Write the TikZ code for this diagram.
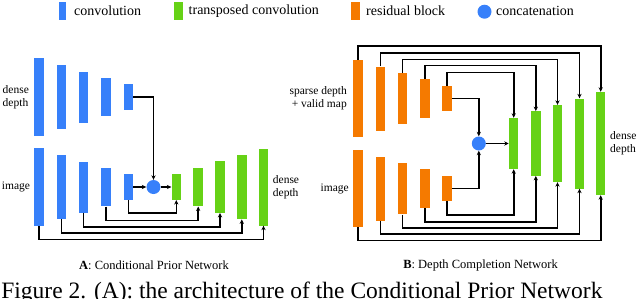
\documentclass[tikz,border=0pt]{standalone}
\usepackage{fontspec}
\setmainfont{Liberation Serif}
\usetikzlibrary{arrows.meta}
\definecolor{convblue}{RGB}{55,128,250}
\definecolor{tgreen}{RGB}{102,210,22}
\definecolor{resorange}{RGB}{245,122,0}
\tikzset{
  bar/.style={rectangle, inner sep=0pt, minimum width=9.5pt, draw=none},
  conv/.style={bar, fill=convblue},
  tconv/.style={bar, fill=tgreen},
  resb/.style={bar, fill=resorange},
  concat/.style={circle, inner sep=0pt, minimum size=14pt, fill=convblue},
  conn/.style={line width=1.6pt, black},
  arr/.style={conn, -{Stealth[length=4.5pt,width=4.2pt]}},
  lbl/.style={inner sep=0pt, font=\fontsize{11.5}{13}\selectfont},
  leg/.style={inner sep=0pt, anchor=west, font=\fontsize{14}{16}\selectfont},
  captext/.style={inner sep=0pt, font=\fontsize{12.5}{14}\selectfont},
}
\begin{document}
\begin{tikzpicture}[x=1pt,y=-1pt]
\useasboundingbox (0,0) rectangle (640,298);

% ---------- legend ----------
\node[conv, minimum width=7.5pt, minimum height=18pt] (lg1) at (62.7,10.5) {};
\node[leg] (lt1) at (74,11) {convolution};
\node[tconv, minimum width=8.5pt, minimum height=18pt] (lg2) at (178.7,10.5) {};
\node[leg] (lt2) at (188.5,11) {transposed convolution};
\node[resb, minimum width=9pt, minimum height=18pt] (lg3) at (355,10.5) {};
\node[leg] (lt3) at (366,11) {residual block};
\node[concat] (lg4) at (484.5,11.7) {};
\node[leg] (lt4) at (496,11) {concatenation};

% ---------- Panel A ----------
\node[conv, minimum height=77.4pt] (t1) at (39,97) {};
\node[conv, minimum height=64pt]   (t2) at (61.3,97) {};
\node[conv, minimum height=51pt]   (t3) at (83.5,97) {};
\node[conv, minimum height=38.6pt] (t4) at (106,97) {};
\node[conv, minimum height=25.7pt] (t5) at (128.3,97) {};

\node[conv, minimum height=77.4pt] (b1) at (39,187) {};
\node[conv, minimum height=64pt]   (b2) at (61.3,187) {};
\node[conv, minimum height=51pt]   (b3) at (83.5,187) {};
\node[conv, minimum height=38.6pt] (b4) at (106,187) {};
\node[conv, minimum height=25.7pt] (b5) at (128.3,187) {};

\node[concat] (cA) at (153.5,187) {};

\node[tconv, minimum height=25.7pt] (g1) at (176.3,187) {};
\node[tconv, minimum height=38.6pt] (g2) at (198.2,187) {};
\node[tconv, minimum height=51.5pt] (g3) at (220,187) {};
\node[tconv, minimum height=64.3pt] (g4) at (241.8,187) {};
\node[tconv, minimum height=77pt]   (g5) at (263.5,187) {};

\draw[arr] (t5.east) -| (cA.north);
\draw[arr] (b5.east) -- (cA.west);
\draw[arr] (cA.east) -- (g1.west);
\draw[arr] (b5.south) -- (b5.south |- 0,213) -| (g1.south);
\draw[arr] (b4.south) -- (b4.south |- 0,220.3) -| (g2.south);
\draw[arr] (b3.south) -- (b3.south |- 0,226.7) -| (g3.south);
\draw[arr] (b2.south) -- (b2.south |- 0,232.8) -| (g4.south);
\draw[arr] (b1.south) -- (b1.south |- 0,239.3) -| (g5.south);

\node[lbl, anchor=west, align=left] (la1) at (2.5,97) {dense\\depth};
\node[lbl, anchor=west] (la2) at (1.7,187) {image};
\node[lbl, anchor=west, align=left] (la3) at (272.7,187) {dense\\depth};

% ---------- Panel B ----------
\node[resb, minimum height=77pt]   (u1) at (358,98.5) {};
\node[resb, minimum height=64pt]   (u2) at (380.3,98.5) {};
\node[resb, minimum height=51.6pt] (u3) at (402.5,98.5) {};
\node[resb, minimum height=38.7pt] (u4) at (425,98.5) {};
\node[resb, minimum height=25.3pt] (u5) at (447.2,98.5) {};

\node[resb, minimum height=77pt]   (l1) at (358,188.6) {};
\node[resb, minimum height=64pt]   (l2) at (380.3,188.6) {};
\node[resb, minimum height=51.6pt] (l3) at (402.5,188.6) {};
\node[resb, minimum height=38.7pt] (l4) at (425,188.6) {};
\node[resb, minimum height=25.3pt] (l5) at (447.2,188.6) {};

\node[concat] (cB) at (478.8,143.5) {};

\node[tconv, minimum height=51pt]   (h1) at (513.7,143.5) {};
\node[tconv, minimum height=64.3pt] (h2) at (535.8,143.5) {};
\node[tconv, minimum height=77pt]   (h3) at (557.5,143.5) {};
\node[tconv, minimum height=90pt]   (h4) at (579.5,143.5) {};
\node[tconv, minimum height=103pt]  (h5) at (600.7,143.5) {};

\draw[arr] (u5.east) -| (cB.north);
\draw[arr] (l5.east) -| (cB.south);
\draw[arr] (cB.east) -- (h1.west);

\draw[arr] (u5.north) -- (u5.north |- 0,72.3) -| (h1.north);
\draw[arr] (u4.north) -- (u4.north |- 0,65.3) -| (h2.north);
\draw[arr] (u3.north) -- (u3.north |- 0,59.3) -| (h3.north);
\draw[arr] (u2.north) -- (u2.north |- 0,52.7) -| (h4.north);
\draw[arr] (u1.north) -- (u1.north |- 0,45.7) -| (h5.north);

\draw[arr] (l5.south) -- (l5.south |- 0,214.7) -| (h1.south);
\draw[arr] (l4.south) -- (l4.south |- 0,221.7) -| (h2.south);
\draw[arr] (l3.south) -- (l3.south |- 0,227.7) -| (h3.south);
\draw[arr] (l2.south) -- (l2.south |- 0,233.7) -| (h4.south);
\draw[arr] (l1.south) -- (l1.south |- 0,240.3) -| (h5.south);

\node[lbl, anchor=east, align=right] (lb1) at (347,98.5) {sparse depth\\+ valid map};
\node[lbl, anchor=east] (lb2) at (349,189) {image};
\node[lbl, anchor=west, align=left] (lb3) at (610,143) {dense\\depth};

% ---------- captions ----------
\node[captext] (capA) at (154,265) {\textbf{A}: Conditional Prior Network};
\node[captext] (capB) at (480.5,265) {\textbf{B}: Depth Completion Network};
\node[inner sep=0pt, anchor=base west, font=\fontsize{23.5}{26}\selectfont] (fig) at (1.2,298.8)
  {Figure 2. (A): the architecture of the Conditional Prior Network};
\end{tikzpicture}
\end{document}
